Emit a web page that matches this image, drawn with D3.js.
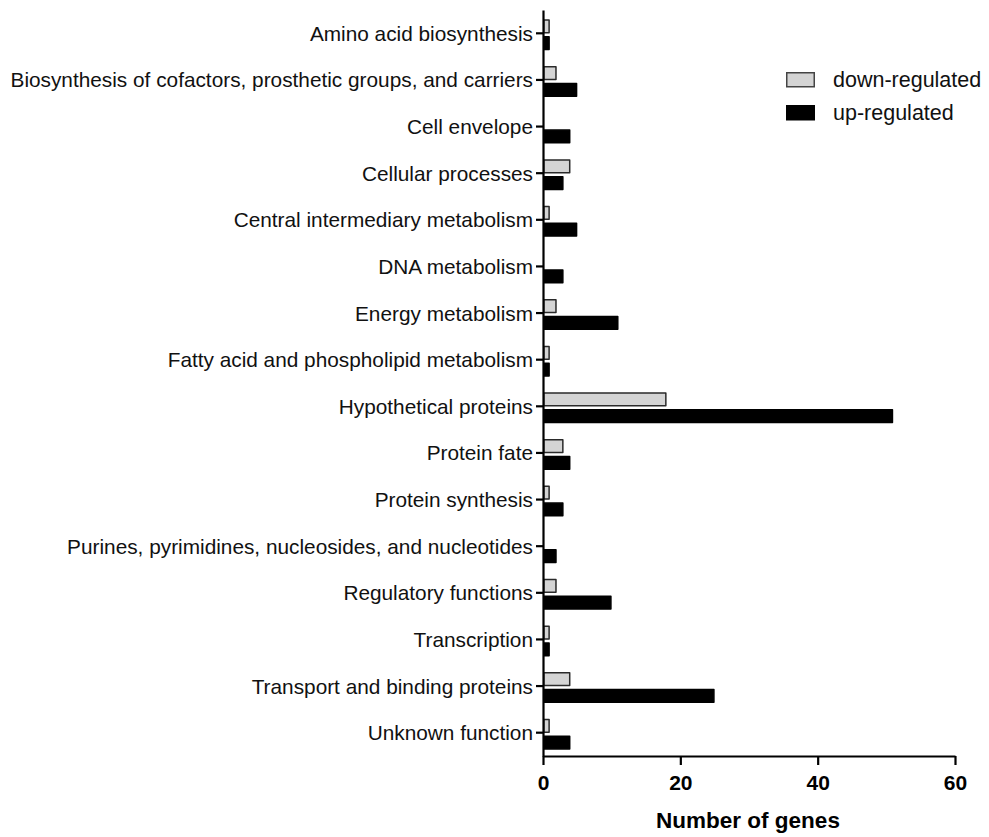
<!DOCTYPE html>
<html><head><meta charset="utf-8">
<script src="https://cdn.jsdelivr.net/npm/d3@7"></script>
<style>body{margin:0;background:#fff}svg{display:block}</style>
</head><body>
<script>
const categories = ["Amino acid biosynthesis","Biosynthesis of cofactors, prosthetic groups, and carriers","Cell envelope","Cellular processes","Central intermediary metabolism","DNA metabolism","Energy metabolism","Fatty acid and phospholipid metabolism","Hypothetical proteins","Protein fate","Protein synthesis","Purines, pyrimidines, nucleosides, and nucleotides","Regulatory functions","Transcription","Transport and binding proteins","Unknown function"];
const downRegulated = [1,2,0,4,1,0,2,1,18,3,1,0,2,1,4,1];
const upRegulated   = [1,5,4,3,5,3,11,1,51,4,3,2,10,1,25,4];
const seriesNames = ["down-regulated","up-regulated"];
const xTicks = [0,20,40,60];

const W=989,H=837;
const svg=d3.select("body").append("svg").attr("width",W).attr("height",H);
const font="Arial, 'Liberation Sans', sans-serif";

const x=d3.scaleLinear().domain([0,60]).range([543,955]);
const y=d3.scaleBand().domain(categories).range([10,756]);
const ySub=d3.scaleBand().domain(seriesNames).range([-14,17]).paddingInner(0.15);
const fills={"down-regulated":"#d4d4d4","up-regulated":"#000"};
const strokes={"down-regulated":"#2a2a2a","up-regulated":"#000"};

const data=categories.map((c,i)=>({c,vals:[{s:"down-regulated",v:downRegulated[i]},{s:"up-regulated",v:upRegulated[i]}]}));

const g=svg.append("g");
data.forEach(d=>{
  const cy=y(d.c)+y.bandwidth()/2;
  d.vals.forEach(b=>{
    if(b.v<=0) return;
    g.append("rect")
      .attr("x",x(0)+0.75)
      .attr("y",cy+ySub(b.s)+0.75)
      .attr("width",Math.max(0,x(b.v)-x(0)-1.5))
      .attr("height",ySub.bandwidth()-1.5)
      .attr("fill",fills[b.s]).attr("stroke",strokes[b.s])
      .attr("stroke-width",1.5).attr("stroke-linejoin","round");
  });
});

// Y axis
const yAxis=d3.axisLeft(y).tickSize(7).tickPadding(3).tickSizeOuter(0);
const ya=svg.append("g").attr("transform",`translate(${x(0)},0)`).call(yAxis);
ya.select(".domain").attr("stroke","#000").attr("stroke-width",2.2);
ya.selectAll(".tick line").attr("stroke","#000").attr("stroke-width",2.2);
ya.selectAll(".tick text").attr("font-family",font).attr("font-size",20.8).attr("fill","#111").attr("dy","0.36em");

// X axis
const xAxis=d3.axisBottom(x).tickValues(xTicks).tickSize(9).tickPadding(10).tickSizeOuter(0);
const xa=svg.append("g").attr("transform",`translate(0,${y.range()[1]})`).call(xAxis);
xa.select(".domain").attr("stroke","#000").attr("stroke-width",2.2);
xa.selectAll(".tick line").attr("stroke","#000").attr("stroke-width",2.2);
xa.selectAll(".tick text").attr("font-family",font).attr("font-size",21).attr("font-weight","bold").attr("fill","#000");

svg.append("text").attr("x",748).attr("y",828).attr("text-anchor","middle")
  .attr("font-family",font).attr("font-size",22.5).attr("font-weight","bold").text("Number of genes");

// Legend
const leg=svg.append("g");
seriesNames.forEach((s,i)=>{
  const ly=80+i*33;
  leg.append("rect").attr("x",786.75).attr("y",ly-7.25).attr("width",27.5).attr("height",14)
    .attr("fill",fills[s]).attr("stroke",s==="down-regulated"?"#444":"#000").attr("stroke-width",1.5);
  leg.append("text").attr("x",833).attr("y",ly).attr("dominant-baseline","central")
    .attr("font-family",font).attr("font-size",21.5).attr("fill","#111").text(s);
});
</script>
</body></html>
